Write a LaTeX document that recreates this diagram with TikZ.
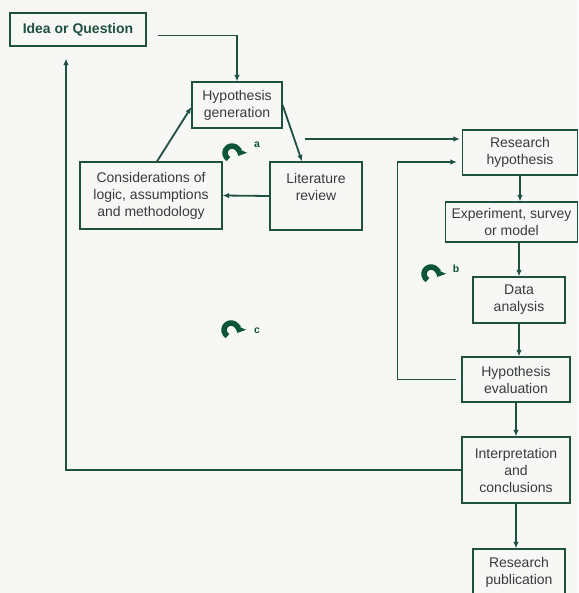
\documentclass[tikz,border=0pt]{standalone}
\usepackage{fontspec}
\setmainfont{Liberation Sans}
\usetikzlibrary{positioning,arrows.meta}
\definecolor{linegreen}{RGB}{30,82,62}
\definecolor{curlgreen}{RGB}{12,86,56}
\definecolor{textgrey}{RGB}{55,60,58}
\definecolor{paper}{RGB}{247,247,246}

\begin{document}
\begin{tikzpicture}[x=1pt,y=-1pt,
	every node/.style={draw=linegreen,line width=1.2pt,align=center,text=textgrey,font=\fontsize{14}{17}\selectfont,inner sep=2pt},
	flow/.style={draw=linegreen,line width=1.8pt,-{Latex[length=6.5pt,width=5.5pt]}},
	curl/.style={draw=curlgreen,line width=5.5pt,-{Triangle[length=6.5pt,width=12.5pt]}},
	tag/.style={draw=none,text=curlgreen,font=\bfseries\fontsize{10.5}{11}\selectfont}]

			\fill[paper] (0,0) rectangle (578,593);
			\useasboundingbox (0,0) rectangle (578,593);

			%left nodes
			\node [minimum width=136,minimum height=33,text=linegreen,font=\bfseries\fontsize{14}{17}\selectfont] (idea) at (78,29.5) {Idea or Question};
			\node [minimum width=90,minimum height=46] (hypgen) at (237,105) {Hypothesis\\generation};
			\node [minimum width=142,minimum height=67] (consid) at (151,195.5) {Considerations of\\logic, assumptions\\and methodology};
			\node [minimum width=92,minimum height=68] (litrev) at (316,196) {Literature\\review\\[2pt]\mbox{}};

			%right nodes
			\node [minimum width=115,minimum height=45] (reshyp) at (520,152.5) {Research\\hypothesis};
			\node [minimum width=132,minimum height=40] (expt) at (511.5,222) {Experiment, survey\\or model};
			\node [minimum width=92,minimum height=46] (data) at (519,300) {Data\\analysis};
			\node [minimum width=108,minimum height=45] (hypeval) at (516,379.5) {Hypothesis\\evaluation};
			\node [minimum width=108,minimum height=66] (interp) at (516,470) {Interpretation\\and\\conclusions};
			\node [minimum width=92,minimum height=46] (pub) at (519,572) {Research\\publication};

			%cycles
			\draw[curl] (232,153) ++(120:7) arc[start angle=120,end angle=385,radius=7];
			\node [tag] (taga) at (257,145) {a};
			\draw[curl] (431,274) ++(120:7) arc[start angle=120,end angle=385,radius=7];
			\node [tag] (tagb) at (456,269) {b};
			\draw[curl] (231,330) ++(120:7) arc[start angle=120,end angle=385,radius=7];
			\node [tag] (tagc) at (257,331) {c};

			%edges
			\coordinate (lrout) at (305,139);
			\draw[flow,shorten <=11pt] ([yshift=-6pt]idea.east) -| (hypgen.north);
			\draw[flow] (hypgen.east) -- ([xshift=-14pt]litrev.north);
			\draw[flow] (litrev.west) -- (consid.east);
			\draw[flow] ([xshift=6pt]consid.north) -- ([yshift=-2pt]hypgen.west);
			\draw[flow,shorten >=2pt] (lrout) -- (lrout -| reshyp.west);

			\draw[flow] (reshyp.south) -- (reshyp.south |- expt.north);
			\draw[flow] (data.north |- expt.south) -- (data.north);
			\draw[flow] (data.south) -- (data.south |- hypeval.north);
			\draw[flow] (hypeval.south) -- (interp.north);
			\draw[flow] (interp.south) -- (interp.south |- pub.north);

			\draw[flow,shorten <=5pt,shorten >=5pt] (hypeval.west) -- ++(-64,0) |- ([yshift=-9.5pt]reshyp.west);
			\draw[flow,shorten >=12pt] (interp.west) -| ([xshift=-12pt]idea.south);
		\end{tikzpicture}
\end{document}
